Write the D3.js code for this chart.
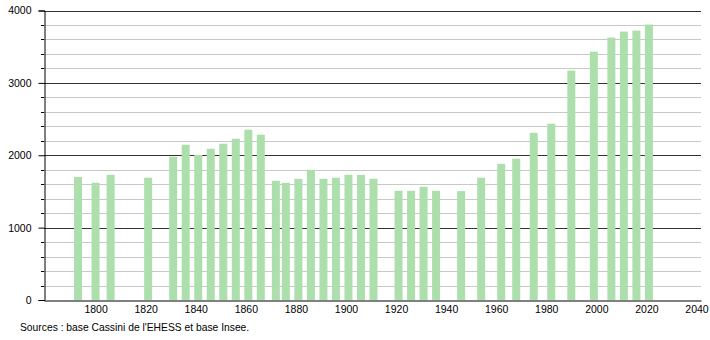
<!DOCTYPE html>
<html>
<head>
  <meta charset="utf-8">
  <title>Population</title>
  <script src="https://d3js.org/d3.v7.min.js"></script>
  <style>
body { margin: 0; background: #fff; }
text { font-family: "Liberation Sans", Arial, sans-serif; font-size: 10.5px; fill: #000; }
.bar { fill: #addfad; }
  </style>
</head>
<body>
<div id="chart"></div>
<script>
// census years and population
var annees = [1793, 1800, 1806, 1821, 1831, 1836, 1841, 1846, 1851, 1856, 1861, 1866,
  1872, 1876, 1881, 1886, 1891, 1896, 1901, 1906, 1911, 1921, 1926, 1931, 1936,
  1946, 1954, 1962, 1968, 1975, 1982, 1990, 1999, 2006, 2011, 2016, 2021];
var habitants = [1700, 1620, 1730, 1690, 1980, 2145, 2005, 2090, 2160, 2228, 2353, 2284,
  1647, 1619, 1675, 1799, 1675, 1689, 1730, 1730, 1675, 1509, 1509, 1564, 1509,
  1505, 1689, 1882, 1952, 2311, 2436, 3170, 3432, 3626, 3709, 3723, 3806];
var xTicks = [1800, 1820, 1840, 1860, 1880, 1900, 1920, 1940, 1960, 1980, 2000, 2020, 2040];
var yTicks = [0, 1000, 2000, 3000, 4000];
var source = "Sources : base Cassini de l'EHESS et base Insee.";

var w = 710, h = 340;
var svg = d3.select("#chart").append("svg")
  .attr("width", w)
  .attr("height", h);

var x = d3.scaleLinear().domain([1779.4, 2041.8]).range([44, 701]);
var y = d3.scaleLinear().domain([0, 4000]).range([300, 10.5]);
var minor = d3.range(200, 4000, 200).filter(v => v % 1000 != 0);

// minor grid every 200
svg.append("g").selectAll("line")
  .data(minor).enter()
  .append("line")
    .attr("x1", 44).attr("x2", 701)
    .attr("y1", d => Math.round(y(d)) + 0.5).attr("y2", d => Math.round(y(d)) + 0.5)
    .attr("stroke", "#c8c8c8");

// major grid
svg.append("g").selectAll("line")
  .data(yTicks.slice(1)).enter()
  .append("line")
    .attr("x1", 44).attr("x2", 701)
    .attr("y1", d => Math.round(y(d)) + 0.5).attr("y2", d => Math.round(y(d)) + 0.5)
    .attr("stroke", "#333");

// bars
var data = annees.map((a, i) => ({annee: a, pop: habitants[i]}));
svg.selectAll("rect.bar").data(data).enter()
  .append("rect")
    .attr("class", "bar")
    .attr("x", d => x(d.annee) - 4)
    .attr("y", d => y(d.pop))
    .attr("width", 8)
    .attr("height", d => y(0) - y(d.pop))
    .append("title").text(d => d.annee + " : " + d.pop);

// y axis
var yAxis = d3.axisLeft(y).tickValues(yTicks).tickSize(6).tickPadding(7).tickFormat(d3.format("d"));
var gy = svg.append("g").attr("transform", "translate(44.5,0)").call(yAxis);
gy.select(".domain").attr("stroke", "#000");
gy.selectAll(".tick line").attr("stroke", "#000");
gy.selectAll("text").attr("font-size", null).attr("font-family", null);
svg.append("g").selectAll("line")
  .data(minor).enter()
  .append("line")
    .attr("x1", 41).attr("x2", 44)
    .attr("y1", d => Math.round(y(d)) + 0.5).attr("y2", d => Math.round(y(d)) + 0.5)
    .attr("stroke", "#000");

// x axis
var xAxis = d3.axisBottom(x).tickValues(xTicks).tickSize(0).tickPadding(5).tickFormat(d3.format("d"));
var gx = svg.append("g").attr("transform", "translate(0,300.5)").call(xAxis);
gx.select(".domain").attr("stroke", "#000");
gx.selectAll("text").attr("font-size", null).attr("font-family", null);

svg.append("text")
  .attr("x", 20)
  .attr("y", 331)
  .style("font-size", "10.3px")
  .text(source);
</script>
</body>
</html>
